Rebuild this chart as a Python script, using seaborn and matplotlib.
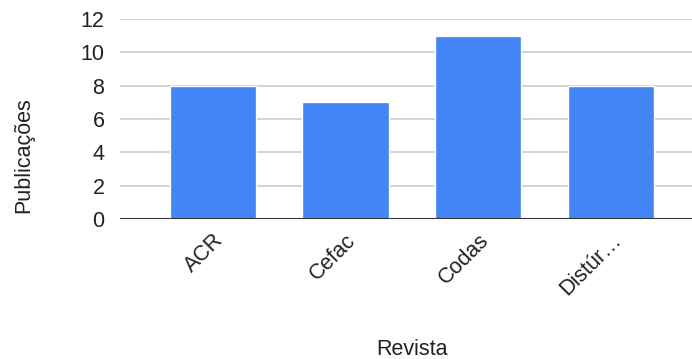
import numpy as np
import pandas as pd
import matplotlib.pyplot as plt
import seaborn as sns

revistas = ["ACR", "Cefac", "Codas", "Distúr…"]
publicacoes = [8, 7, 11, 8]

df = pd.DataFrame({"Revista": revistas, "Publicações": publicacoes})

sns.set_style("white")
plt.rcParams["font.family"] = ["Liberation Sans", "DejaVu Sans"]

fig = plt.figure(figsize=(6.92, 3.59), dpi=100)
ax = fig.add_axes([0.173, 0.39, 0.827, 0.557])

sns.barplot(data=df, x="Revista", y="Publicações", color="#4285F4",
            saturation=1, width=0.65, ax=ax, zorder=3)

ax.set_ylim(0, 12)
ax.set_yticks([0, 2, 4, 6, 8, 10, 12])
ax.set_xlim(-0.70, 3.61)
ax.grid(axis="y", color="#cccccc", linewidth=1.2, zorder=0)
ax.axhline(0, color="#333333", linewidth=1.5, zorder=4)
for s in ax.spines.values():
    s.set_visible(False)

ax.tick_params(axis="y", length=0, pad=11, labelsize=15.5, labelcolor="#222222")
ax.tick_params(axis="x", length=0, pad=8, labelsize=15.5, labelcolor="#222222")
plt.setp(ax.get_xticklabels(), rotation=45, ha="right", rotation_mode="anchor")

ax.set_xlabel("Revista", fontsize=15.5, color="#222222")
ax.set_ylabel("Publicações", fontsize=15.5, color="#222222")
ax.xaxis.set_label_coords(0.51, -0.6)
ax.yaxis.set_label_coords(-0.15, 0.32)

fig.savefig("out.png", dpi=100)
